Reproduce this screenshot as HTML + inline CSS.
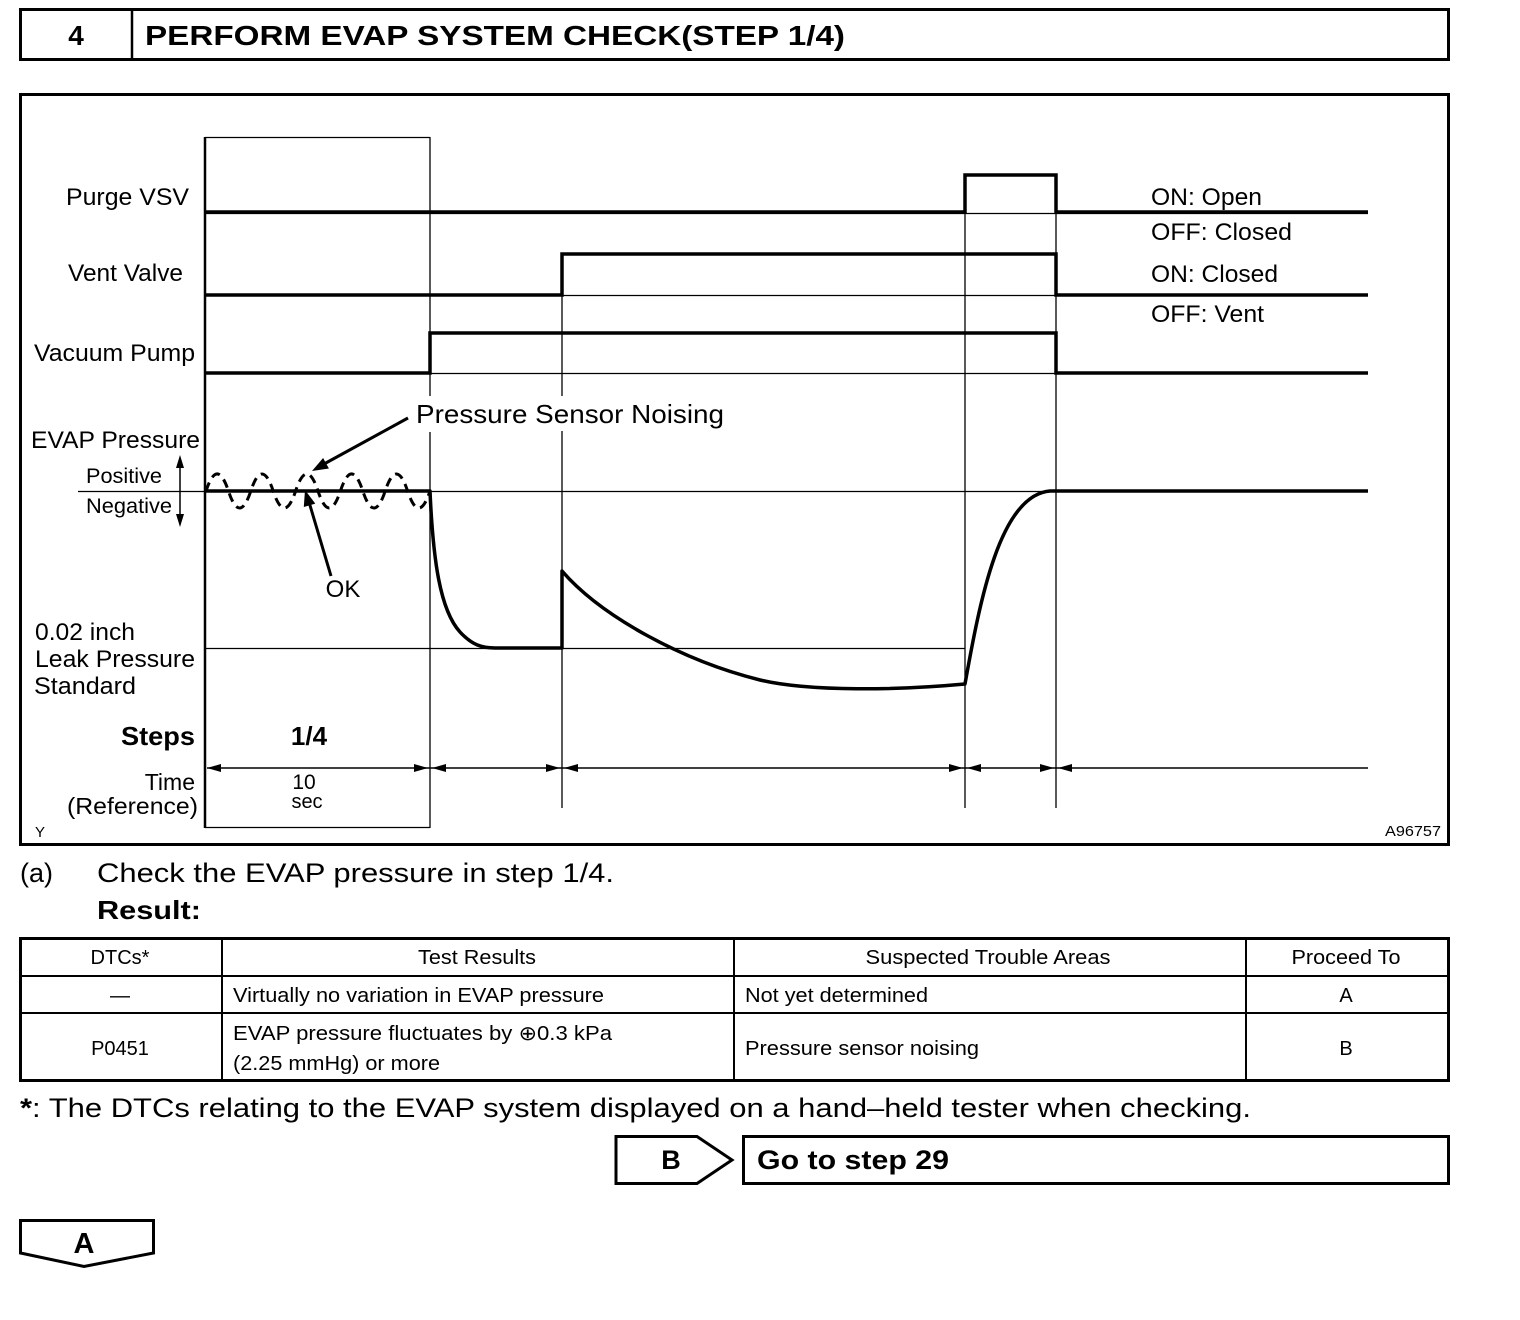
<!DOCTYPE html>
<html><head><meta charset="utf-8"><style>
html,body{margin:0;padding:0;background:#fff;}
svg{display:block;}
text{font-family:"Liberation Sans",Arial,"DejaVu Sans",sans-serif;fill:#000;}
.b{font-weight:bold;}
</style></head><body>
<svg width="1520" height="1320" viewBox="0 0 1520 1320" xmlns="http://www.w3.org/2000/svg">
<rect width="1520" height="1320" fill="#fff"/>

<!-- Header -->
<rect x="20.5" y="9.5" width="1428" height="50" fill="none" stroke="#000" stroke-width="3"/>
<line x1="132" y1="9" x2="132" y2="60" stroke="#000" stroke-width="2.5"/>
<text x="76" y="45" font-size="28" class="b" text-anchor="middle">4</text>
<text x="145" y="45" font-size="28" class="b" textLength="700" lengthAdjust="spacingAndGlyphs">PERFORM EVAP SYSTEM CHECK(STEP 1/4)</text>

<!-- Chart frame -->
<rect x="20.5" y="94.5" width="1428" height="750" fill="none" stroke="#000" stroke-width="3"/>

<!-- inner step box -->
<g stroke="#000" fill="none">
  <path d="M205,137.5 H430 M205,827.5 H430" stroke-width="1.3"/>
  <path d="M430,137 V396 M430,432 V828" stroke-width="1.3"/>
  <line x1="205" y1="137" x2="205" y2="828" stroke-width="2.5"/>
  <!-- thin horizontal grid -->
  <path d="M205,213.5 H1368 M205,295.5 H1368 M205,373.5 H1368 M78,491.5 H1368 M205,648.5 H965" stroke-width="1.3"/>
  <!-- thin verticals -->
  <path d="M562,253 V396 M562,431 V808 M965,174 V808 M1056,174 V808" stroke-width="1.3"/>
  <!-- signals -->
  <path d="M205,212 H965 V175 H1056 V212 H1368" stroke-width="3.5"/>
  <path d="M205,295 H562 V254 H1056 V295 H1368" stroke-width="3.5"/>
  <path d="M205,373 H430 V333 H1056 V373 H1368" stroke-width="3.5"/>
  <!-- EVAP pressure -->
  <path d="M205,491 H430 C433,560 440,610 460,632 C472,645 482,648 495,648 H562 V571 C600,615 680,660 760,680 C810,692 900,690 965,684 C980,600 1000,495 1050,491 H1368" stroke-width="3.5" stroke-linejoin="round"/>
  <!-- noise wave -->
  <path d="M206,491 q11.2,-34 22.4,0 t22.4,0 t22.4,0 t22.4,0 t22.4,0 t22.4,0 t22.4,0 t22.4,0 t22.4,0 t22.4,0" stroke-width="3" stroke-dasharray="9 6"/>
  <!-- arrows -->
  <line x1="408" y1="418" x2="324" y2="464" stroke-width="3"/>
  <line x1="331" y1="576" x2="309" y2="502" stroke-width="3"/>
  <line x1="180" y1="464" x2="180" y2="518" stroke-width="1.5"/>
  <!-- time line -->
  <line x1="207" y1="768" x2="1368" y2="768" stroke-width="1.6"/>
</g>
<g fill="#000">
  <polygon points="312,471 328.9,468.5 323.1,458.0"/>
  <polygon points="305,490 315.3,503.6 303.8,507.0"/>
  <polygon points="180,455 176,468 184,468"/>
  <polygon points="180,527 176,514 184,514"/>
  <!-- time arrowheads -->
  <polygon points="207,768 221,764 221,772"/>
  <polygon points="428,768 414,764 414,772"/>
  <polygon points="432,768 446,764 446,772"/>
  <polygon points="560,768 546,764 546,772"/>
  <polygon points="564,768 578,764 578,772"/>
  <polygon points="963,768 949,764 949,772"/>
  <polygon points="967,768 981,764 981,772"/>
  <polygon points="1054,768 1040,764 1040,772"/>
  <polygon points="1058,768 1072,764 1072,772"/>
</g>

<!-- chart labels -->
<text x="66" y="205" font-size="24" textLength="123" lengthAdjust="spacingAndGlyphs">Purge VSV</text>
<text x="68" y="281" font-size="24" textLength="115" lengthAdjust="spacingAndGlyphs">Vent Valve</text>
<text x="34" y="361" font-size="24" textLength="161" lengthAdjust="spacingAndGlyphs">Vacuum Pump</text>
<text x="1151" y="205" font-size="24" textLength="111" lengthAdjust="spacingAndGlyphs">ON: Open</text>
<text x="1151" y="240" font-size="24" textLength="141" lengthAdjust="spacingAndGlyphs">OFF: Closed</text>
<text x="1151" y="282" font-size="24" textLength="127" lengthAdjust="spacingAndGlyphs">ON: Closed</text>
<text x="1151" y="322" font-size="24" textLength="113" lengthAdjust="spacingAndGlyphs">OFF: Vent</text>

<text x="416" y="423" font-size="26" textLength="308" lengthAdjust="spacingAndGlyphs">Pressure Sensor Noising</text>
<text x="31" y="448" font-size="24" textLength="169" lengthAdjust="spacingAndGlyphs">EVAP Pressure</text>
<text x="86" y="483" font-size="21" textLength="76" lengthAdjust="spacingAndGlyphs">Positive</text>
<text x="86" y="513" font-size="21" textLength="86" lengthAdjust="spacingAndGlyphs">Negative</text>
<text x="343" y="597" font-size="24" text-anchor="middle">OK</text>

<text x="35" y="640" font-size="24" textLength="100" lengthAdjust="spacingAndGlyphs">0.02 inch</text>
<text x="35" y="667" font-size="24" textLength="160" lengthAdjust="spacingAndGlyphs">Leak Pressure</text>
<text x="34" y="694" font-size="24" textLength="102" lengthAdjust="spacingAndGlyphs">Standard</text>

<text x="121" y="745" font-size="26" class="b" textLength="74" lengthAdjust="spacingAndGlyphs">Steps</text>
<text x="309" y="745" font-size="26" class="b" text-anchor="middle">1/4</text>
<text x="195" y="790" font-size="23" text-anchor="end">Time</text>
<text x="67" y="814" font-size="23" textLength="131" lengthAdjust="spacingAndGlyphs">(Reference)</text>
<text x="304" y="789" font-size="21" text-anchor="middle">10</text>
<text x="307" y="808" font-size="20" text-anchor="middle">sec</text>
<text x="35" y="837" font-size="15">Y</text>
<text x="1385" y="836" font-size="15" textLength="56" lengthAdjust="spacingAndGlyphs">A96757</text>

<!-- Step text -->
<text x="20" y="882" font-size="27">(a)</text>
<text x="97" y="882" font-size="27" textLength="517" lengthAdjust="spacingAndGlyphs">Check the EVAP pressure in step 1/4.</text>
<text x="97" y="919" font-size="26" class="b" textLength="104" lengthAdjust="spacingAndGlyphs">Result:</text>

<!-- Table -->
<g stroke="#000" fill="none">
  <rect x="20.5" y="938.5" width="1428" height="142" stroke-width="3"/>
  <path d="M20,976 H1449 M20,1013 H1449" stroke-width="2"/>
  <path d="M222,938 V1081 M734,938 V1081 M1246,938 V1081" stroke-width="2"/>
</g>
<g font-size="20">
  <text x="120" y="964" text-anchor="middle">DTCs*</text>
  <text x="477" y="964" text-anchor="middle" textLength="118" lengthAdjust="spacingAndGlyphs">Test Results</text>
  <text x="988" y="964" text-anchor="middle" textLength="245" lengthAdjust="spacingAndGlyphs">Suspected Trouble Areas</text>
  <text x="1346" y="964" text-anchor="middle" textLength="109" lengthAdjust="spacingAndGlyphs">Proceed To</text>

  <text x="120" y="1002" text-anchor="middle">—</text>
  <text x="233" y="1002" textLength="371" lengthAdjust="spacingAndGlyphs">Virtually no variation in EVAP pressure</text>
  <text x="745" y="1002" textLength="183" lengthAdjust="spacingAndGlyphs">Not yet determined</text>
  <text x="1346" y="1002" text-anchor="middle">A</text>

  <text x="120" y="1055" text-anchor="middle">P0451</text>
  <text x="233" y="1040" textLength="379" lengthAdjust="spacingAndGlyphs">EVAP pressure fluctuates by ⊕0.3 kPa</text>
  <text x="233" y="1070" textLength="207" lengthAdjust="spacingAndGlyphs">(2.25 mmHg) or more</text>
  <text x="745" y="1055" textLength="234" lengthAdjust="spacingAndGlyphs">Pressure sensor noising</text>
  <text x="1346" y="1055" text-anchor="middle">B</text>
</g>

<!-- footnote -->
<text x="20" y="1117" font-size="27" textLength="1231" lengthAdjust="spacingAndGlyphs"><tspan class="b">*</tspan>: The DTCs relating to the EVAP system displayed on a hand–held tester when checking.</text>

<!-- B button -->
<polygon points="616,1136.5 697,1136.5 732,1160 697,1183.5 616,1183.5" fill="none" stroke="#000" stroke-width="3" stroke-linejoin="miter"/>
<text x="671" y="1169" font-size="27" class="b" text-anchor="middle">B</text>
<rect x="743.5" y="1136.5" width="705" height="47" fill="none" stroke="#000" stroke-width="3"/>
<text x="757" y="1169" font-size="27" class="b" textLength="192" lengthAdjust="spacingAndGlyphs">Go to step 29</text>

<!-- A button -->
<polygon points="20.5,1220.5 153.5,1220.5 153.5,1253 84,1266.5 20.5,1253" fill="none" stroke="#000" stroke-width="3"/>
<text x="84" y="1253" font-size="29" class="b" text-anchor="middle">A</text>
</svg>
</body></html>
